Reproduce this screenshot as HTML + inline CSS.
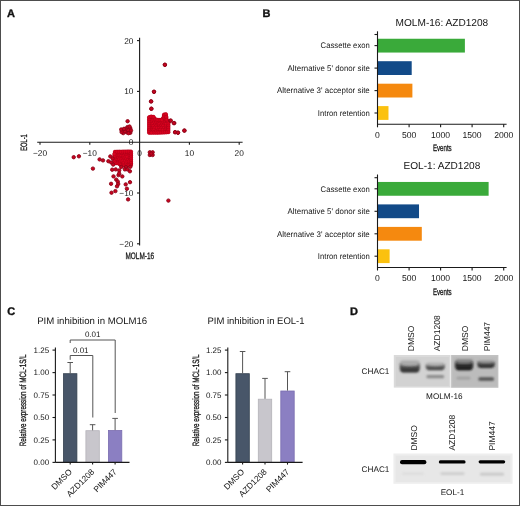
<!DOCTYPE html><html><head><meta charset="utf-8"><style>
html,body{margin:0;padding:0;background:#fff;overflow:hidden;}
svg{display:block;will-change:transform;}
text{font-family:"Liberation Sans",sans-serif;text-rendering:geometricPrecision;}
</style></head><body>
<svg width="520" height="506" viewBox="0 0 520 506">
<rect x="0" y="0" width="520" height="506" fill="#fff"/>
<rect x="0.5" y="0.5" width="519" height="505" fill="none" stroke="#4d4d4d" stroke-width="1"/>
<text x="7" y="17" font-size="11" font-weight="bold" fill="#111" stroke="#111" stroke-width="0.35">A</text>
<text x="262.6" y="17.2" font-size="11" font-weight="bold" fill="#111" stroke="#111" stroke-width="0.35">B</text>
<text x="7.2" y="315.4" font-size="11" font-weight="bold" fill="#111" stroke="#111" stroke-width="0.35">C</text>
<text x="350" y="315.3" font-size="11" font-weight="bold" fill="#111" stroke="#111" stroke-width="0.35">D</text>
<g stroke="#1a1a1a" stroke-width="1.1" fill="none">
<line x1="139.6" y1="37.7" x2="139.6" y2="245.5"/>
<line x1="37.2" y1="142.2" x2="242.6" y2="142.2"/>
<line x1="40.0" y1="142.2" x2="40.0" y2="144.79999999999998"/>
<line x1="137.0" y1="243.8" x2="139.6" y2="243.8"/>
<line x1="89.8" y1="142.2" x2="89.8" y2="144.79999999999998"/>
<line x1="137.0" y1="193.0" x2="139.6" y2="193.0"/>
<line x1="189.4" y1="142.2" x2="189.4" y2="144.79999999999998"/>
<line x1="137.0" y1="91.4" x2="139.6" y2="91.4"/>
<line x1="239.2" y1="142.2" x2="239.2" y2="144.79999999999998"/>
<line x1="137.0" y1="40.6" x2="139.6" y2="40.6"/>
</g>
<g font-size="8.3" fill="#151515" text-anchor="middle">
<text x="40.0" y="156.0">−20</text>
<text x="89.8" y="156.0">−10</text>
<text x="139.6" y="156.0">0</text>
<text x="189.4" y="156.0">10</text>
<text x="239.2" y="156.0">20</text>
</g>
<g font-size="8.3" fill="#151515" text-anchor="end">
<text x="133.4" y="246.8">−20</text>
<text x="133.4" y="196.0">−10</text>
<text x="133.4" y="145.2">0</text>
<text x="133.4" y="94.4">10</text>
<text x="133.4" y="43.6">20</text>
</g>
<text x="125.5" y="259" font-size="9.4" fill="#151515" stroke="#151515" stroke-width="0.3" textLength="28.6" lengthAdjust="spacingAndGlyphs">MOLM-16</text>
<text transform="translate(27.0,150.8) rotate(-90)" x="0" y="0" font-size="9.2" fill="#151515" stroke="#151515" stroke-width="0.3" textLength="16.6" lengthAdjust="spacingAndGlyphs">EOL-1</text>
<polygon points="149.1,132.8 149.1,117.2 151,116.6 153.6,116.9 155.2,119.3 158.5,120 161.8,119.8 163.6,117.6 164.1,114.6 165.9,114.3 166.4,117 166.7,119.8 168.4,121.4 168.4,132.2 160,132.6" fill="#d9031f" stroke="#d9031f" stroke-width="3.6" stroke-linejoin="round"/>
<polygon points="115.0,151.7 131.0,151.6 131.0,165.0 128,165.5 124.5,165.6 121,165.2 118.5,163.3 115.5,163.3 114.4,161.5 114.4,154" fill="#d9031f" stroke="#d9031f" stroke-width="3.6" stroke-linejoin="round"/>
<g fill="#d9031f" stroke="#9a0018" stroke-width="0.6" stroke-opacity="0.55">
<circle cx="164.2" cy="116.2" r="1.75"/>
<circle cx="151.6" cy="118.2" r="1.75"/>
<circle cx="153.5" cy="118.4" r="1.75"/>
<circle cx="162.9" cy="118.7" r="1.75"/>
<circle cx="165.4" cy="118.1" r="1.75"/>
<circle cx="150.2" cy="120.6" r="1.75"/>
<circle cx="152.2" cy="120.3" r="1.75"/>
<circle cx="154.4" cy="120.5" r="1.75"/>
<circle cx="157.4" cy="120.4" r="1.75"/>
<circle cx="159.8" cy="120.1" r="1.75"/>
<circle cx="161.9" cy="120.4" r="1.75"/>
<circle cx="164.1" cy="120.3" r="1.75"/>
<circle cx="166.7" cy="120.7" r="1.75"/>
<circle cx="151.0" cy="122.5" r="1.75"/>
<circle cx="153.8" cy="122.8" r="1.75"/>
<circle cx="156.3" cy="122.1" r="1.75"/>
<circle cx="158.2" cy="122.5" r="1.75"/>
<circle cx="160.1" cy="122.3" r="1.75"/>
<circle cx="162.6" cy="121.9" r="1.75"/>
<circle cx="164.8" cy="122.6" r="1.75"/>
<circle cx="167.1" cy="122.0" r="1.75"/>
<circle cx="150.1" cy="124.7" r="1.75"/>
<circle cx="152.1" cy="124.2" r="1.75"/>
<circle cx="154.9" cy="124.7" r="1.75"/>
<circle cx="157.5" cy="124.7" r="1.75"/>
<circle cx="159.2" cy="124.2" r="1.75"/>
<circle cx="161.6" cy="124.7" r="1.75"/>
<circle cx="164.5" cy="124.0" r="1.75"/>
<circle cx="166.0" cy="124.0" r="1.75"/>
<circle cx="151.5" cy="126.1" r="1.75"/>
<circle cx="153.2" cy="126.2" r="1.75"/>
<circle cx="155.9" cy="126.4" r="1.75"/>
<circle cx="158.8" cy="126.5" r="1.75"/>
<circle cx="160.6" cy="126.4" r="1.75"/>
<circle cx="163.1" cy="125.9" r="1.75"/>
<circle cx="165.6" cy="126.6" r="1.75"/>
<circle cx="167.9" cy="126.6" r="1.75"/>
<circle cx="150.1" cy="128.2" r="1.75"/>
<circle cx="152.2" cy="128.4" r="1.75"/>
<circle cx="154.4" cy="127.9" r="1.75"/>
<circle cx="156.9" cy="128.0" r="1.75"/>
<circle cx="159.3" cy="127.9" r="1.75"/>
<circle cx="161.3" cy="128.0" r="1.75"/>
<circle cx="163.7" cy="128.2" r="1.75"/>
<circle cx="165.9" cy="128.7" r="1.75"/>
<circle cx="149.2" cy="129.9" r="1.75"/>
<circle cx="151.2" cy="130.1" r="1.75"/>
<circle cx="153.6" cy="129.9" r="1.75"/>
<circle cx="156.3" cy="130.8" r="1.75"/>
<circle cx="158.3" cy="130.3" r="1.75"/>
<circle cx="160.2" cy="129.9" r="1.75"/>
<circle cx="162.7" cy="130.1" r="1.75"/>
<circle cx="165.5" cy="130.0" r="1.75"/>
<circle cx="167.0" cy="130.8" r="1.75"/>
<circle cx="150.3" cy="131.9" r="1.75"/>
<circle cx="152.6" cy="131.8" r="1.75"/>
<circle cx="157.5" cy="132.5" r="1.75"/>
<circle cx="159.2" cy="132.2" r="1.75"/>
<circle cx="166.2" cy="132.0" r="1.75"/>
<circle cx="117.1" cy="151.9" r="1.75"/>
<circle cx="119.3" cy="151.8" r="1.75"/>
<circle cx="128.0" cy="151.8" r="1.75"/>
<circle cx="116.0" cy="154.1" r="1.75"/>
<circle cx="118.3" cy="153.5" r="1.75"/>
<circle cx="119.9" cy="153.3" r="1.75"/>
<circle cx="122.1" cy="153.3" r="1.75"/>
<circle cx="124.9" cy="154.0" r="1.75"/>
<circle cx="127.4" cy="153.6" r="1.75"/>
<circle cx="129.5" cy="153.9" r="1.75"/>
<circle cx="117.1" cy="155.9" r="1.75"/>
<circle cx="119.3" cy="155.6" r="1.75"/>
<circle cx="121.0" cy="155.9" r="1.75"/>
<circle cx="123.4" cy="155.9" r="1.75"/>
<circle cx="126.4" cy="155.5" r="1.75"/>
<circle cx="128.1" cy="156.0" r="1.75"/>
<circle cx="130.7" cy="155.3" r="1.75"/>
<circle cx="115.2" cy="157.3" r="1.75"/>
<circle cx="118.3" cy="157.9" r="1.75"/>
<circle cx="119.8" cy="157.9" r="1.75"/>
<circle cx="122.9" cy="157.8" r="1.75"/>
<circle cx="124.6" cy="157.6" r="1.75"/>
<circle cx="126.7" cy="157.1" r="1.75"/>
<circle cx="129.8" cy="157.7" r="1.75"/>
<circle cx="114.4" cy="160.0" r="1.75"/>
<circle cx="116.6" cy="160.0" r="1.75"/>
<circle cx="119.3" cy="159.3" r="1.75"/>
<circle cx="121.1" cy="159.4" r="1.75"/>
<circle cx="123.3" cy="159.7" r="1.75"/>
<circle cx="125.7" cy="159.5" r="1.75"/>
<circle cx="127.8" cy="160.0" r="1.75"/>
<circle cx="130.4" cy="159.6" r="1.75"/>
<circle cx="115.6" cy="162.0" r="1.75"/>
<circle cx="117.8" cy="162.0" r="1.75"/>
<circle cx="120.2" cy="161.6" r="1.75"/>
<circle cx="122.5" cy="161.1" r="1.75"/>
<circle cx="124.7" cy="161.3" r="1.75"/>
<circle cx="126.6" cy="161.9" r="1.75"/>
<circle cx="129.0" cy="161.6" r="1.75"/>
<circle cx="120.9" cy="163.7" r="1.75"/>
<circle cx="123.3" cy="163.4" r="1.75"/>
<circle cx="126.2" cy="163.6" r="1.75"/>
<circle cx="128.3" cy="163.9" r="1.75"/>
<circle cx="130.9" cy="163.5" r="1.75"/>
<circle cx="127.5" cy="165.4" r="1.75"/>
<circle cx="149.1" cy="132.8" r="1.75"/>
<circle cx="149.1" cy="130.9" r="1.75"/>
<circle cx="149.1" cy="128.9" r="1.75"/>
<circle cx="149.1" cy="127.0" r="1.75"/>
<circle cx="149.1" cy="125.0" r="1.75"/>
<circle cx="149.1" cy="123.1" r="1.75"/>
<circle cx="149.1" cy="121.1" r="1.75"/>
<circle cx="149.1" cy="119.2" r="1.75"/>
<circle cx="149.1" cy="117.2" r="1.75"/>
<circle cx="151.0" cy="116.6" r="1.75"/>
<circle cx="153.6" cy="116.9" r="1.75"/>
<circle cx="155.2" cy="119.3" r="1.75"/>
<circle cx="156.8" cy="119.7" r="1.75"/>
<circle cx="158.5" cy="120.0" r="1.75"/>
<circle cx="160.2" cy="119.9" r="1.75"/>
<circle cx="161.8" cy="119.8" r="1.75"/>
<circle cx="163.6" cy="117.6" r="1.75"/>
<circle cx="163.8" cy="116.1" r="1.75"/>
<circle cx="164.1" cy="114.6" r="1.75"/>
<circle cx="165.9" cy="114.3" r="1.75"/>
<circle cx="166.4" cy="117.0" r="1.75"/>
<circle cx="166.7" cy="119.8" r="1.75"/>
<circle cx="168.4" cy="121.4" r="1.75"/>
<circle cx="168.4" cy="123.6" r="1.75"/>
<circle cx="168.4" cy="125.7" r="1.75"/>
<circle cx="168.4" cy="127.9" r="1.75"/>
<circle cx="168.4" cy="130.0" r="1.75"/>
<circle cx="168.4" cy="132.2" r="1.75"/>
<circle cx="166.3" cy="132.3" r="1.75"/>
<circle cx="164.2" cy="132.4" r="1.75"/>
<circle cx="162.1" cy="132.5" r="1.75"/>
<circle cx="160.0" cy="132.6" r="1.75"/>
<circle cx="157.8" cy="132.6" r="1.75"/>
<circle cx="155.6" cy="132.7" r="1.75"/>
<circle cx="153.5" cy="132.7" r="1.75"/>
<circle cx="151.3" cy="132.8" r="1.75"/>
<circle cx="115.0" cy="151.7" r="1.75"/>
<circle cx="117.0" cy="151.7" r="1.75"/>
<circle cx="119.0" cy="151.7" r="1.75"/>
<circle cx="121.0" cy="151.7" r="1.75"/>
<circle cx="123.0" cy="151.6" r="1.75"/>
<circle cx="125.0" cy="151.6" r="1.75"/>
<circle cx="127.0" cy="151.6" r="1.75"/>
<circle cx="129.0" cy="151.6" r="1.75"/>
<circle cx="131.0" cy="151.6" r="1.75"/>
<circle cx="131.0" cy="153.5" r="1.75"/>
<circle cx="131.0" cy="155.4" r="1.75"/>
<circle cx="131.0" cy="157.3" r="1.75"/>
<circle cx="131.0" cy="159.3" r="1.75"/>
<circle cx="131.0" cy="161.2" r="1.75"/>
<circle cx="131.0" cy="163.1" r="1.75"/>
<circle cx="131.0" cy="165.0" r="1.75"/>
<circle cx="129.5" cy="165.2" r="1.75"/>
<circle cx="128.0" cy="165.5" r="1.75"/>
<circle cx="126.2" cy="165.6" r="1.75"/>
<circle cx="124.5" cy="165.6" r="1.75"/>
<circle cx="122.8" cy="165.4" r="1.75"/>
<circle cx="121.0" cy="165.2" r="1.75"/>
<circle cx="119.8" cy="164.2" r="1.75"/>
<circle cx="118.5" cy="163.3" r="1.75"/>
<circle cx="117.0" cy="163.3" r="1.75"/>
<circle cx="115.5" cy="163.3" r="1.75"/>
<circle cx="114.4" cy="161.5" r="1.75"/>
<circle cx="114.4" cy="159.6" r="1.75"/>
<circle cx="114.4" cy="157.8" r="1.75"/>
<circle cx="114.4" cy="155.9" r="1.75"/>
<circle cx="114.4" cy="154.0" r="1.75"/>
</g>
<g fill="#c8031f" stroke="#8c0418" stroke-width="0.9">
<circle cx="164.9" cy="64.8" r="1.7"/>
<circle cx="154.0" cy="91.8" r="1.7"/>
<circle cx="151.0" cy="101.4" r="1.7"/>
<circle cx="151.3" cy="108.8" r="1.7"/>
<circle cx="170.3" cy="120.7" r="1.7"/>
<circle cx="174.3" cy="123.1" r="1.7"/>
<circle cx="175.1" cy="132.2" r="1.7"/>
<circle cx="178.0" cy="132.7" r="1.7"/>
<circle cx="184.4" cy="130.6" r="1.7"/>
<circle cx="164.9" cy="64.8" r="1.7"/>
<circle cx="154.0" cy="91.8" r="1.7"/>
<circle cx="151.2" cy="101.4" r="1.7"/>
<circle cx="151.4" cy="108.7" r="1.7"/>
<circle cx="170.8" cy="120.6" r="1.7"/>
<circle cx="173.8" cy="123.1" r="1.7"/>
<circle cx="175.1" cy="132.2" r="1.7"/>
<circle cx="178.0" cy="132.7" r="1.7"/>
<circle cx="184.4" cy="130.6" r="1.7"/>
<circle cx="127.6" cy="121.2" r="1.7"/>
<circle cx="122.2" cy="130.3" r="1.7"/>
<circle cx="127.4" cy="127.1" r="1.7"/>
<circle cx="130.3" cy="128.3" r="1.7"/>
<circle cx="123.2" cy="133.1" r="1.7"/>
<circle cx="126.6" cy="132.3" r="1.7"/>
<circle cx="130.3" cy="132.8" r="1.7"/>
<circle cx="124.9" cy="131.3" r="1.7"/>
<circle cx="128.0" cy="130.0" r="1.7"/>
<circle cx="125.5" cy="129.0" r="1.7"/>
<circle cx="121.6" cy="132.0" r="1.7"/>
<circle cx="128.5" cy="133.2" r="1.7"/>
<circle cx="129.5" cy="126.5" r="1.7"/>
<circle cx="131.0" cy="130.5" r="1.7"/>
<circle cx="121.2" cy="129.5" r="1.7"/>
<circle cx="124.0" cy="128.8" r="1.7"/>
<circle cx="110.3" cy="156.4" r="1.7"/>
<circle cx="108.4" cy="161.2" r="1.7"/>
<circle cx="111.2" cy="162.5" r="1.7"/>
<circle cx="112.6" cy="158.5" r="1.7"/>
<circle cx="113.2" cy="164.6" r="1.7"/>
<circle cx="121.3" cy="167.0" r="1.7"/>
<circle cx="126.0" cy="167.2" r="1.7"/>
<circle cx="130.3" cy="166.8" r="1.7"/>
<circle cx="112.2" cy="169.7" r="1.7"/>
<circle cx="115.7" cy="169.4" r="1.7"/>
<circle cx="119.2" cy="170.4" r="1.7"/>
<circle cx="124.9" cy="169.4" r="1.7"/>
<circle cx="127.4" cy="169.4" r="1.7"/>
<circle cx="129.9" cy="171.3" r="1.7"/>
<circle cx="113.5" cy="176.4" r="1.7"/>
<circle cx="118.5" cy="175.1" r="1.7"/>
<circle cx="122.3" cy="176.4" r="1.7"/>
<circle cx="116.2" cy="179.6" r="1.7"/>
<circle cx="117.8" cy="181.6" r="1.7"/>
<circle cx="111.1" cy="183.8" r="1.7"/>
<circle cx="118.2" cy="184.0" r="1.7"/>
<circle cx="130.0" cy="182.2" r="1.7"/>
<circle cx="125.7" cy="184.4" r="1.7"/>
<circle cx="117.0" cy="186.3" r="1.7"/>
<circle cx="126.9" cy="188.7" r="1.7"/>
<circle cx="115.4" cy="191.1" r="1.7"/>
<circle cx="111.5" cy="192.7" r="1.7"/>
<circle cx="128.1" cy="199.4" r="1.7"/>
<circle cx="119.2" cy="173.5" r="1.7"/>
<circle cx="73.7" cy="157.2" r="1.7"/>
<circle cx="78.9" cy="156.3" r="1.7"/>
<circle cx="92.9" cy="168.6" r="1.7"/>
<circle cx="99.6" cy="159.4" r="1.7"/>
<circle cx="103.0" cy="160.4" r="1.7"/>
<circle cx="149.8" cy="152.3" r="1.7"/>
<circle cx="152.6" cy="152.3" r="1.7"/>
<circle cx="149.8" cy="155.0" r="1.7"/>
<circle cx="152.6" cy="155.0" r="1.7"/>
<circle cx="151.2" cy="153.6" r="1.7"/>
<circle cx="168.4" cy="200.6" r="1.7"/>
</g>
<text x="441.9" y="26.2" font-size="10.1" fill="#151515" text-anchor="middle">MOLM-16: AZD1208</text>
<rect x="378.0" y="38.75" width="86.89" height="13.8" fill="#3aaa3a"/>
<rect x="378.0" y="61.20" width="33.70" height="13.8" fill="#124a88"/>
<rect x="378.0" y="83.70" width="34.39" height="13.8" fill="#f5890f"/>
<rect x="378.0" y="106.10" width="10.48" height="13.8" fill="#fbc10f"/>
<g stroke="#1a1a1a" stroke-width="1.1">
<line x1="377.5" y1="31.3" x2="377.5" y2="127.3"/>
<line x1="377.5" y1="124.3" x2="506.6" y2="124.3"/>
<line x1="374.5" y1="34.5" x2="377.5" y2="34.5"/>
<line x1="374.5" y1="45.6" x2="377.5" y2="45.6"/>
<line x1="374.5" y1="68.1" x2="377.5" y2="68.1"/>
<line x1="374.5" y1="90.6" x2="377.5" y2="90.6"/>
<line x1="374.5" y1="113.0" x2="377.5" y2="113.0"/>
<line x1="409.1" y1="124.3" x2="409.1" y2="127.3"/>
<line x1="440.6" y1="124.3" x2="440.6" y2="127.3"/>
<line x1="472.1" y1="124.3" x2="472.1" y2="127.3"/>
<line x1="503.7" y1="124.3" x2="503.7" y2="127.3"/>
</g>
<g font-size="8.6" fill="#151515" text-anchor="middle">
<text x="377.5" y="138.0">0</text>
<text x="409.1" y="138.0">500</text>
<text x="440.6" y="138.0">1000</text>
<text x="472.1" y="138.0">1500</text>
<text x="503.7" y="138.0">2000</text>
</g>
<text x="432.9" y="151.4" font-size="9.4" fill="#151515" stroke="#151515" stroke-width="0.3" textLength="18.8" lengthAdjust="spacingAndGlyphs">Events</text>
<g font-size="8.2" fill="#151515" text-anchor="start">
<text x="320.6" y="48.4" textLength="49.2" lengthAdjust="spacingAndGlyphs">Cassette exon</text>
<text x="287.6" y="70.8" textLength="82.2" lengthAdjust="spacingAndGlyphs">Alternative 5' donor site</text>
<text x="276.9" y="93.3" textLength="92.9" lengthAdjust="spacingAndGlyphs">Alternative 3' acceptor site</text>
<text x="317.8" y="115.7" textLength="52.0" lengthAdjust="spacingAndGlyphs">Intron retention</text>
</g>
<text x="441.9" y="169.2" font-size="10.1" fill="#151515" text-anchor="middle">EOL-1: AZD1208</text>
<rect x="378.0" y="181.95" width="110.62" height="13.8" fill="#3aaa3a"/>
<rect x="378.0" y="204.40" width="41.02" height="13.8" fill="#124a88"/>
<rect x="378.0" y="226.90" width="43.80" height="13.8" fill="#f5890f"/>
<rect x="378.0" y="249.30" width="11.62" height="13.8" fill="#fbc10f"/>
<g stroke="#1a1a1a" stroke-width="1.1">
<line x1="377.5" y1="174.5" x2="377.5" y2="270.5"/>
<line x1="377.5" y1="267.5" x2="506.6" y2="267.5"/>
<line x1="374.5" y1="177.7" x2="377.5" y2="177.7"/>
<line x1="374.5" y1="188.8" x2="377.5" y2="188.8"/>
<line x1="374.5" y1="211.3" x2="377.5" y2="211.3"/>
<line x1="374.5" y1="233.8" x2="377.5" y2="233.8"/>
<line x1="374.5" y1="256.2" x2="377.5" y2="256.2"/>
<line x1="409.1" y1="267.5" x2="409.1" y2="270.5"/>
<line x1="440.6" y1="267.5" x2="440.6" y2="270.5"/>
<line x1="472.1" y1="267.5" x2="472.1" y2="270.5"/>
<line x1="503.7" y1="267.5" x2="503.7" y2="270.5"/>
</g>
<g font-size="8.6" fill="#151515" text-anchor="middle">
<text x="377.5" y="281.2">0</text>
<text x="409.1" y="281.2">500</text>
<text x="440.6" y="281.2">1000</text>
<text x="472.1" y="281.2">1500</text>
<text x="503.7" y="281.2">2000</text>
</g>
<text x="432.9" y="294.6" font-size="9.4" fill="#151515" stroke="#151515" stroke-width="0.3" textLength="18.8" lengthAdjust="spacingAndGlyphs">Events</text>
<g font-size="8.2" fill="#151515" text-anchor="start">
<text x="320.6" y="191.5" textLength="49.2" lengthAdjust="spacingAndGlyphs">Cassette exon</text>
<text x="287.6" y="214.0" textLength="82.2" lengthAdjust="spacingAndGlyphs">Alternative 5' donor site</text>
<text x="276.9" y="236.5" textLength="92.9" lengthAdjust="spacingAndGlyphs">Alternative 3' acceptor site</text>
<text x="317.8" y="258.9" textLength="52.0" lengthAdjust="spacingAndGlyphs">Intron retention</text>
</g>
<text x="92.2" y="323.6" font-size="9.62" fill="#151515" text-anchor="middle">PIM inhibition in MOLM16</text>
<rect x="63.5" y="373.7" width="13.4" height="88.7" fill="#485669" stroke="#34404f" stroke-width="0.8"/>
<rect x="85.9" y="430.7" width="13.4" height="31.7" fill="#c8c6cc" stroke="#b4b2b8" stroke-width="0.8"/>
<rect x="108.4" y="430.5" width="13.4" height="31.9" fill="#8b7fc2" stroke="#7a6db0" stroke-width="0.8"/>
<g stroke="#555" stroke-width="1" fill="none">
<line x1="70.2" y1="373.3" x2="70.2" y2="362.5"/>
<line x1="67.4" y1="362.5" x2="73.0" y2="362.5"/>
<line x1="92.6" y1="430.3" x2="92.6" y2="424.7"/>
<line x1="89.8" y1="424.7" x2="95.4" y2="424.7"/>
<line x1="115.1" y1="430.1" x2="115.1" y2="418.4"/>
<line x1="112.3" y1="418.4" x2="117.9" y2="418.4"/>
<polyline points="70.2,359.8 70.2,355.5 92.8,355.5 92.8,417.5"/>
<polyline points="70.2,343 70.2,340 115.2,340 115.2,413"/>
</g>
<g stroke="#1a1a1a" stroke-width="1.1">
<line x1="55.4" y1="347.4" x2="55.4" y2="462.4"/>
<line x1="55.4" y1="462.4" x2="129.5" y2="462.4"/>
<line x1="52.5" y1="462.4" x2="55.4" y2="462.4"/>
<line x1="52.5" y1="439.9" x2="55.4" y2="439.9"/>
<line x1="52.5" y1="417.5" x2="55.4" y2="417.5"/>
<line x1="52.5" y1="395.0" x2="55.4" y2="395.0"/>
<line x1="52.5" y1="372.6" x2="55.4" y2="372.6"/>
<line x1="52.5" y1="350.1" x2="55.4" y2="350.1"/>
<line x1="70.2" y1="462.4" x2="70.2" y2="464.59999999999997"/>
<line x1="92.6" y1="462.4" x2="92.6" y2="464.59999999999997"/>
<line x1="115.1" y1="462.4" x2="115.1" y2="464.59999999999997"/>
</g>
<g font-size="8" fill="#151515" text-anchor="end">
<text x="49.1" y="465.2">0.00</text>
<text x="49.1" y="442.8">0.25</text>
<text x="49.1" y="420.3">0.50</text>
<text x="49.1" y="397.8">0.75</text>
<text x="49.1" y="375.4">1.00</text>
<text x="49.1" y="352.9">1.25</text>
</g>
<text transform="translate(26.299999999999997,446.2) rotate(-90)" font-size="9.2" fill="#151515" stroke="#151515" stroke-width="0.3" textLength="91.8" lengthAdjust="spacingAndGlyphs">Relative expression of MCL-1S/L</text>
<g font-size="8.4" fill="#151515" text-anchor="end">
<text transform="translate(72.5,472.4) rotate(-45)">DMSO</text>
<text transform="translate(94.9,472.4) rotate(-45)">AZD1208</text>
<text transform="translate(117.4,472.4) rotate(-45)">PIM447</text>
</g>
<g font-size="8" fill="#151515" text-anchor="middle"><text x="80.8" y="352.5">0.01</text><text x="92.7" y="336.7">0.01</text></g>
<text x="256" y="323.6" font-size="9.5" fill="#151515" text-anchor="middle">PIM inhibition in EOL-1</text>
<rect x="235.9" y="373.7" width="13.4" height="88.7" fill="#485669" stroke="#34404f" stroke-width="0.8"/>
<rect x="258.3" y="399.2" width="13.4" height="63.2" fill="#c8c6cc" stroke="#b4b2b8" stroke-width="0.8"/>
<rect x="280.8" y="391.0" width="13.4" height="71.4" fill="#8b7fc2" stroke="#7a6db0" stroke-width="0.8"/>
<g stroke="#555" stroke-width="1" fill="none">
<line x1="242.6" y1="373.3" x2="242.6" y2="351.5"/>
<line x1="239.8" y1="351.5" x2="245.4" y2="351.5"/>
<line x1="265.0" y1="398.8" x2="265.0" y2="378.4"/>
<line x1="262.2" y1="378.4" x2="267.8" y2="378.4"/>
<line x1="287.5" y1="390.6" x2="287.5" y2="371.7"/>
<line x1="284.7" y1="371.7" x2="290.3" y2="371.7"/>
</g>
<g stroke="#1a1a1a" stroke-width="1.1">
<line x1="227.8" y1="347.4" x2="227.8" y2="462.4"/>
<line x1="227.8" y1="462.4" x2="302.6" y2="462.4"/>
<line x1="224.9" y1="462.4" x2="227.8" y2="462.4"/>
<line x1="224.9" y1="439.9" x2="227.8" y2="439.9"/>
<line x1="224.9" y1="417.5" x2="227.8" y2="417.5"/>
<line x1="224.9" y1="395.0" x2="227.8" y2="395.0"/>
<line x1="224.9" y1="372.6" x2="227.8" y2="372.6"/>
<line x1="224.9" y1="350.1" x2="227.8" y2="350.1"/>
<line x1="242.6" y1="462.4" x2="242.6" y2="464.59999999999997"/>
<line x1="265.0" y1="462.4" x2="265.0" y2="464.59999999999997"/>
<line x1="287.5" y1="462.4" x2="287.5" y2="464.59999999999997"/>
</g>
<g font-size="8" fill="#151515" text-anchor="end">
<text x="221.5" y="465.2">0.00</text>
<text x="221.5" y="442.8">0.25</text>
<text x="221.5" y="420.3">0.50</text>
<text x="221.5" y="397.8">0.75</text>
<text x="221.5" y="375.4">1.00</text>
<text x="221.5" y="352.9">1.25</text>
</g>
<text transform="translate(198.70000000000002,446.2) rotate(-90)" font-size="9.2" fill="#151515" stroke="#151515" stroke-width="0.3" textLength="91.8" lengthAdjust="spacingAndGlyphs">Relative expression of MCL-1S/L</text>
<g font-size="8.4" fill="#151515" text-anchor="end">
<text transform="translate(244.9,472.4) rotate(-45)">DMSO</text>
<text transform="translate(267.3,472.4) rotate(-45)">AZD1208</text>
<text transform="translate(289.8,472.4) rotate(-45)">PIM447</text>
</g>
<g font-size="7.9" fill="#151515">
<text x="361.6" y="374.1" font-size="8.2">CHAC1</text>
<text x="361.6" y="471.9" font-size="8.2">CHAC1</text>
</g>
<g font-size="8.2" fill="#151515" text-anchor="middle">
<text x="444.3" y="399.2">MOLM-16</text>
<text x="452.5" y="494.9">EOL-1</text>
</g>
<text transform="translate(413.5,351.2) rotate(-90)" font-size="8.5" fill="#151515">DMSO</text>
<text transform="translate(439.9,351.3) rotate(-90)" font-size="8.5" fill="#151515">AZD1208</text>
<text transform="translate(468.3,351.2) rotate(-90)" font-size="8.5" fill="#151515">DMSO</text>
<text transform="translate(490.2,351.2) rotate(-90)" font-size="8.5" fill="#151515">PIM447</text>
<text transform="translate(416.8,450.6) rotate(-90)" font-size="8.5" fill="#151515">DMSO</text>
<text transform="translate(455.3,450.6) rotate(-90)" font-size="8.5" fill="#151515">AZD1208</text>
<text transform="translate(494.5,450.6) rotate(-90)" font-size="8.5" fill="#151515">PIM447</text>
<defs>
<filter id="bl" x="-30%" y="-80%" width="160%" height="260%"><feGaussianBlur stdDeviation="0.9"/></filter>
<filter id="bl2" x="-30%" y="-80%" width="160%" height="260%"><feGaussianBlur stdDeviation="0.6"/></filter>
<filter id="bl3" x="-30%" y="-80%" width="160%" height="260%"><feGaussianBlur stdDeviation="0.85"/></filter>
<linearGradient id="bandA" x1="0" y1="0" x2="0" y2="1"><stop offset="0" stop-color="#555" stop-opacity="0"/><stop offset="0.35" stop-color="#555" stop-opacity="0.55"/><stop offset="0.8" stop-color="#2a2a2a" stop-opacity="1"/><stop offset="1" stop-color="#2a2a2a" stop-opacity="1"/></linearGradient>
</defs>
<rect x="393.8" y="355" width="56.8" height="32.6" fill="#dadada"/>
<rect x="395.8" y="357" width="53" height="29" fill="#d2d2d2"/>
<rect x="450.2" y="355" width="0.9" height="32.6" fill="#ececec"/>
<rect x="451.1" y="355" width="47.3" height="32.8" fill="#c2c2c2"/>
<rect x="452.5" y="356.5" width="44.5" height="30" fill="#bcbcbc"/>
<g filter="url(#bl)">
<rect x="400.1" y="360.5" width="19.4" height="11.1" rx="2" fill="#8a8a8a" opacity="0.55"/>
</g>
<defs><linearGradient id="g399" x1="0" y1="0" x2="0" y2="1"><stop offset="0" stop-color="#2e2e2e" stop-opacity="0.35"/><stop offset="0.55" stop-color="#2e2e2e" stop-opacity="0.85"/><stop offset="1" stop-color="#2e2e2e" stop-opacity="1"/></linearGradient></defs>
<g filter="url(#bl3)">
<path d="M399.6,363.1 C399.6,371.6 401.1,372.6 403.6,372.6 L416.0,372.6 C418.5,372.6 420.0,371.6 420.0,363.1 C418.0,366.0 415.0,366.3 409.8,366.3 C404.6,366.3 401.6,366.0 399.6,363.1 Z" fill="url(#g399)"/>
</g>
<g filter="url(#bl)">
<rect x="426.1" y="362.5" width="18.4" height="6.7" rx="2" fill="#8a8a8a" opacity="0.45"/>
</g>
<defs><linearGradient id="g425" x1="0" y1="0" x2="0" y2="1"><stop offset="0" stop-color="#444" stop-opacity="0.35"/><stop offset="0.55" stop-color="#444" stop-opacity="0.85"/><stop offset="1" stop-color="#444" stop-opacity="1"/></linearGradient></defs>
<g filter="url(#bl3)">
<path d="M425.6,364.0 C425.6,369.2 427.1,370.2 429.6,370.2 L441.0,370.2 C443.5,370.2 445.0,369.2 445.0,364.0 C443.0,365.9 440.0,366.2 435.3,366.2 C430.6,366.2 427.6,365.9 425.6,364.0 Z" fill="url(#g425)"/>
</g>
<g filter="url(#bl)"><rect x="426.4" y="375.0" width="17.8" height="3.2" rx="1.5" fill="#8c8c8c"/></g>
<g filter="url(#bl)">
<rect x="455.4" y="359.3" width="17.4" height="10.0" rx="2" fill="#555" opacity="0.55"/>
</g>
<defs><linearGradient id="g454" x1="0" y1="0" x2="0" y2="1"><stop offset="0" stop-color="#141414" stop-opacity="0.35"/><stop offset="0.55" stop-color="#141414" stop-opacity="0.85"/><stop offset="1" stop-color="#141414" stop-opacity="1"/></linearGradient></defs>
<g filter="url(#bl3)">
<path d="M454.9,361.0 C454.9,369.3 456.4,370.3 458.9,370.3 L469.3,370.3 C471.8,370.3 473.3,369.3 473.3,361.0 C471.3,363.3 468.3,363.6 464.1,363.6 C459.9,363.6 456.9,363.3 454.9,361.0 Z" fill="url(#g454)"/>
</g>
<g filter="url(#bl)">
<rect x="477.7" y="360.5" width="16.8" height="6.4" rx="2" fill="#6a6a6a" opacity="0.5"/>
</g>
<defs><linearGradient id="g477" x1="0" y1="0" x2="0" y2="1"><stop offset="0" stop-color="#2a2a2a" stop-opacity="0.35"/><stop offset="0.55" stop-color="#2a2a2a" stop-opacity="0.85"/><stop offset="1" stop-color="#2a2a2a" stop-opacity="1"/></linearGradient></defs>
<g filter="url(#bl3)">
<path d="M477.2,361.6 C477.2,366.9 478.7,367.9 481.2,367.9 L491.0,367.9 C493.5,367.9 495.0,366.9 495.0,361.6 C493.0,363.3 490.0,363.6 486.1,363.6 C482.2,363.6 479.2,363.3 477.2,361.6 Z" fill="url(#g477)"/>
</g>
<g filter="url(#bl)"><rect x="478.4" y="377.2" width="15.6" height="3.5" rx="1.5" fill="#555"/></g>
<g filter="url(#bl)"><rect x="456.6" y="376.8" width="13.9" height="2.7" rx="1.2" fill="#a0a0a0"/></g>
<rect x="393.4" y="453.5" width="119.2" height="30.3" fill="#eeeeee"/>
<rect x="395.5" y="455.5" width="115" height="26.5" fill="#e7e7e7"/>
<g filter="url(#bl2)">
<rect x="400" y="459.9" width="26.4" height="4.4" rx="2" fill="#000"/>
<rect x="438.8" y="460.3" width="26.8" height="3.2" rx="1.6" fill="#050505"/>
<rect x="478.6" y="460.2" width="26.6" height="3.2" rx="1.6" fill="#050505"/>
</g>
<g filter="url(#bl)">
<rect x="440.5" y="472.3" width="24" height="2.6" rx="1.2" fill="#cdcdcd"/>
<rect x="480" y="472.8" width="24" height="2.8" rx="1.2" fill="#c8c8c8"/>
<rect x="402" y="472.5" width="22" height="2.2" rx="1.1" fill="#dcdcdc"/>
</g>
</svg></body></html>
